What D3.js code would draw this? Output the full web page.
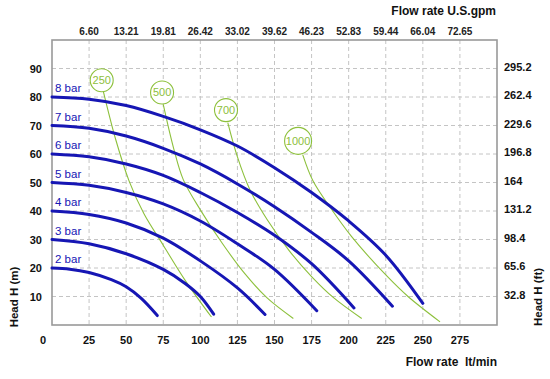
<!DOCTYPE html>
<html>
<head>
<meta charset="utf-8">
<script src="https://cdn.jsdelivr.net/npm/d3@7"></script>
<style>
  html, body { margin: 0; padding: 0; background: #fff; }
  svg { display: block; font-family: "Liberation Sans", Arial, sans-serif; }
</style>
</head>
<body>
<svg id="chart" width="550" height="379"></svg>
<script>
// ---- data ----
const flowTicks = [0, 25, 50, 75, 100, 125, 150, 175, 200, 225, 250, 275];
const headTicks = [10, 20, 30, 40, 50, 60, 70, 80, 90];
const gpmLabels = ["6.60", "13.21", "19.81", "26.42", "33.02", "39.62", "46.23", "52.83", "59.44", "66.04", "72.65"];
const ftLabels = ["32.8", "65.6", "98.4", "131.2", "164", "196.8", "229.6", "262.4", "295.2"];

const barNames = ["2 bar", "3 bar", "4 bar", "5 bar", "6 bar", "7 bar", "8 bar"];
const bar2 = [[0, 20], [12, 19.6], [25, 18.4], [40, 15.9], [50, 13.4], [60, 9.4], [71, 3.3]];
const bar3 = [[0, 30], [25, 28.5], [50, 25], [75, 19.5], [90, 14.5], [100, 10], [109, 3.8]];
const bar4 = [[0, 40], [25, 38.8], [50, 35.8], [75, 30.5], [100, 22.5], [125, 13], [143.6, 3.7]];
const bar5 = [[0, 50], [25, 49], [50, 46.5], [75, 42.5], [100, 36.5], [125, 28.5], [150, 19.5], [178.5, 5]];
const bar6 = [[0, 60], [25, 59], [50, 56.5], [75, 52.5], [100, 46.5], [125, 39.5], [150, 31.5], [175, 21.5], [203.6, 6]];
const bar7 = [[0, 70], [25, 69], [50, 66.3], [75, 62], [100, 56.5], [125, 49.5], [150, 41.5], [175, 32.5], [200, 22.5], [229.5, 6.6]];
const bar8 = [[0, 80], [25, 79.2], [50, 77], [75, 73.2], [100, 68.5], [125, 62.8], [150, 55.2], [175, 46.5], [200, 36.5], [225, 24.5], [250, 7.6]];

const airNames = ["250", "500", "700", "1000"];
const airLabelPos = [[33.5, 85.9], [74.2, 81.6], [117.3, 75.4], [165.9, 64.6]];
const air250 = [[34.6, 82], [43, 65], [52, 50.5], [62, 39], [75, 28], [90, 15.5], [107.5, 2.8]];
const air500 = [[75, 77.4], [82, 62], [88.5, 51], [100, 40.4], [115, 28.5], [130, 18], [145, 9.5], [162.7, 2.3]];
const air700 = [[118.5, 71], [125, 59], [133.5, 47.4], [145, 37], [160, 26], [175, 17], [190, 9.5], [208.8, 2.3]];
const air1000 = [[169, 59.8], [176, 50.5], [187.5, 41.3], [202, 31], [225.7, 17.2], [240, 10], [261.6, 1.1]];

// ---- layout ----
const svg = d3.select("#chart");
const mLeft = 52, mRight = 497, mTop = 40, mBottom = 325;
const x = d3.scaleLinear().domain([0, 300]).range([mLeft, mRight]);
const y = d3.scaleLinear().domain([0, 100]).range([mBottom, mTop]);

const blue = "#1616b4";
const green = "#8dc03c";
const gridColor = "#c4c4c4";
const frameColor = "#999";

// grid
svg.append("g").selectAll("line").data(flowTicks.filter(d => d > 0)).join("line")
  .attr("x1", d => x(d)).attr("x2", d => x(d)).attr("y1", mTop).attr("y2", mBottom)
  .attr("stroke", gridColor).attr("stroke-width", 1).attr("stroke-dasharray", "4,3");
svg.append("g").selectAll("line").data(headTicks).join("line")
  .attr("x1", mLeft).attr("x2", mRight).attr("y1", d => y(d)).attr("y2", d => y(d))
  .attr("stroke", gridColor).attr("stroke-width", 1).attr("stroke-dasharray", "4,3");

// frame
svg.append("rect").attr("x", mLeft).attr("y", mTop).attr("width", mRight - mLeft).attr("height", mBottom - mTop)
  .attr("fill", "none").attr("stroke", frameColor).attr("stroke-width", 1.6);

// bottom tick labels
svg.append("g").selectAll("text").data(flowTicks).join("text")
  .attr("x", d => d === 0 ? x(d) - 9 : x(d)).attr("y", 344)
  .attr("text-anchor", "middle").attr("font-size", 11).attr("font-weight", "bold").attr("fill", "#111")
  .text(d => d);

// left tick labels
svg.append("g").selectAll("text").data(headTicks).join("text")
  .attr("x", 42).attr("y", d => y(d) + 4)
  .attr("text-anchor", "end").attr("font-size", 11).attr("font-weight", "bold").attr("fill", "#111")
  .text(d => d);

// top gpm labels
svg.append("g").selectAll("text").data(gpmLabels).join("text")
  .attr("x", (d, i) => x(flowTicks[i + 1])).attr("y", 34.5)
  .attr("text-anchor", "middle").attr("font-size", 10).attr("font-weight", "bold").attr("fill", "#222")
  .text(d => d);

// right ft labels
svg.append("g").selectAll("text").data(ftLabels).join("text")
  .attr("x", 504).attr("y", (d, i) => y(headTicks[i]) + 2)
  .attr("text-anchor", "start").attr("font-size", 11).attr("font-weight", "bold").attr("fill", "#111")
  .text(d => d);

// axis titles
svg.append("text").attr("x", 496).attr("y", 15).attr("text-anchor", "end")
  .attr("font-size", 12).attr("font-weight", "bold").attr("fill", "#111").text("Flow rate U.S.gpm");
svg.append("text").attr("x", 497).attr("y", 366).attr("text-anchor", "end")
  .attr("font-size", 12).attr("font-weight", "bold").attr("fill", "#111").attr("xml:space", "preserve").text("Flow rate  lt/min");
svg.append("text").attr("transform", "translate(18,297) rotate(-90)").attr("text-anchor", "middle")
  .attr("font-size", 11.5).attr("font-weight", "bold").attr("fill", "#111").text("Head H (m)");
svg.append("text").attr("transform", "translate(542,297) rotate(-90)").attr("text-anchor", "middle")
  .attr("font-size", 11.5).attr("font-weight", "bold").attr("fill", "#111").text("Head H (ft)");

// air consumption lines
const line = d3.line().x(d => x(d[0])).y(d => y(d[1])).curve(d3.curveCatmullRom.alpha(0.5));
const airSeries = [air250, air500, air700, air1000];
svg.append("g").selectAll("path").data(airSeries).join("path")
  .attr("d", line).attr("fill", "none").attr("stroke", green).attr("stroke-width", 1.1);

// bar curves
const barSeries = [bar2, bar3, bar4, bar5, bar6, bar7, bar8];
svg.append("g").selectAll("path").data(barSeries).join("path")
  .attr("d", line).attr("fill", "none").attr("stroke", blue).attr("stroke-width", 3)
  .attr("stroke-linecap", "round");
svg.append("g").selectAll("text").data(barNames).join("text")
  .attr("x", 55).attr("y", (d, i) => y(barSeries[i][0][1]) - 5)
  .attr("font-size", 11.5).attr("fill", blue).text(d => d);

// air labels (circles)
const labels = svg.append("g").selectAll("g").data(airNames).join("g")
  .attr("transform", (d, i) => `translate(${x(airLabelPos[i][0])},${y(airLabelPos[i][1])})`);
labels.append("circle").attr("r", d => d.length > 3 ? 13.5 : 11.5)
  .attr("fill", "#fff").attr("stroke", green).attr("stroke-width", 1.1);
labels.append("text").attr("text-anchor", "middle").attr("dy", 4)
  .attr("font-size", 11).attr("fill", green).text(d => d);
</script>
</body>
</html>
